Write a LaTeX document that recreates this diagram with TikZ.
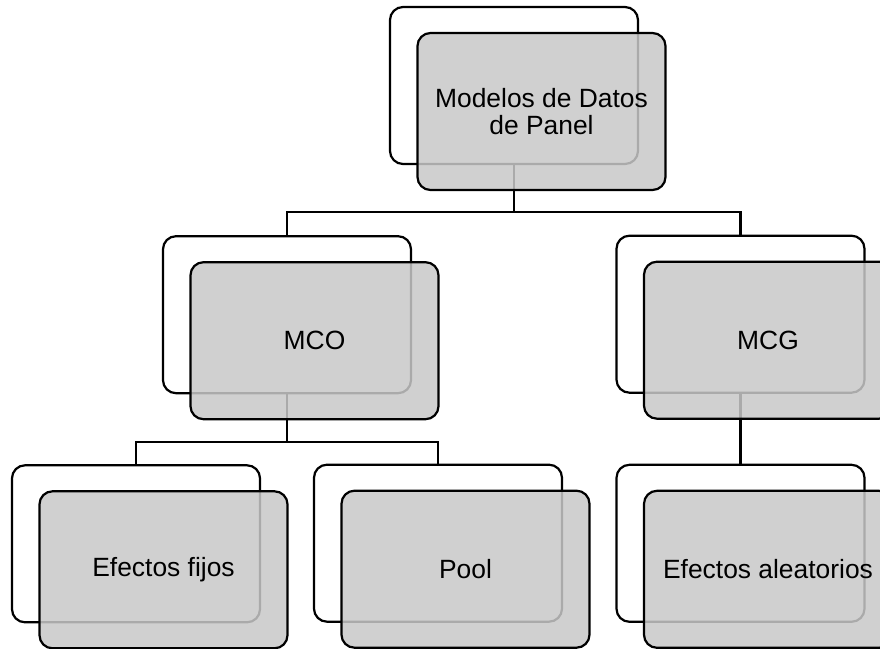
\documentclass[tikz,border=0pt]{standalone}
\usepackage{fontspec}
\setmainfont{Liberation Sans}
\definecolor{boxgray}{RGB}{200,200,200}
\tikzset{
  backbox/.style={draw=black, line width=2.2pt, fill=white, rounded corners=13pt,
    minimum width=248pt, minimum height=157pt, inner sep=0pt, outer sep=0pt},
  frontbox/.style={draw=black, line width=2.2pt, fill=boxgray, fill opacity=0.85, text opacity=1,
    rounded corners=13pt, minimum width=248pt, minimum height=157pt, inner sep=0pt, outer sep=0pt,
    align=center, font=\fontsize{26.4}{27.3}\selectfont},
  conn/.style={draw=black, line width=2.2pt}
}
\begin{document}
\begin{tikzpicture}[x=1pt,y=-1pt]
\useasboundingbox (0,0) rectangle (880,648);
\begin{scope}
\clip (0,0) rectangle (880,648);
% back boxes
\node[backbox] (rootb) at (514,85.5) {};
\node[backbox] (mcob) at (287,314.7) {};
\node[backbox] (mcgb) at (740.5,314.2) {};
\node[backbox] (efb) at (136,543.8) {};
\node[backbox] (poolb) at (438,543.2) {};
\node[backbox] (eab) at (740.5,543.3) {};
% bus coordinates
\coordinate (bus1) at (514,212);
\coordinate (bus2) at (287,442);
% connectors
\draw[conn] (rootb.south) -- (bus1);
\draw[conn] (mcob.north) |- (bus1) -| (mcgb.north);
\draw[conn] (mcob.south) -- (bus2);
\draw[conn] (efb.north) |- (bus2) -| (poolb.north);
\draw[conn] (mcgb.south) -- (eab.north);
% front boxes
\node[frontbox] (rootf) at ([shift={(27.5,26)}]rootb.center) {Modelos de Datos\\de Panel};
\node[frontbox] (mcof) at ([shift={(27.5,26)}]mcob.center) {MCO};
\node[frontbox] (mcgf) at ([shift={(27.5,26)}]mcgb.center) {MCG};
\node[frontbox] (eff) at ([shift={(27.5,26)}]efb.center) {Efectos fijos};
\node[frontbox] (poolf) at ([shift={(27.5,26)}]poolb.center) {Pool};
\node[frontbox] (eaf) at ([shift={(27.5,26)}]eab.center) {Efectos aleatorios};
\end{scope}
\end{tikzpicture}
\end{document}
